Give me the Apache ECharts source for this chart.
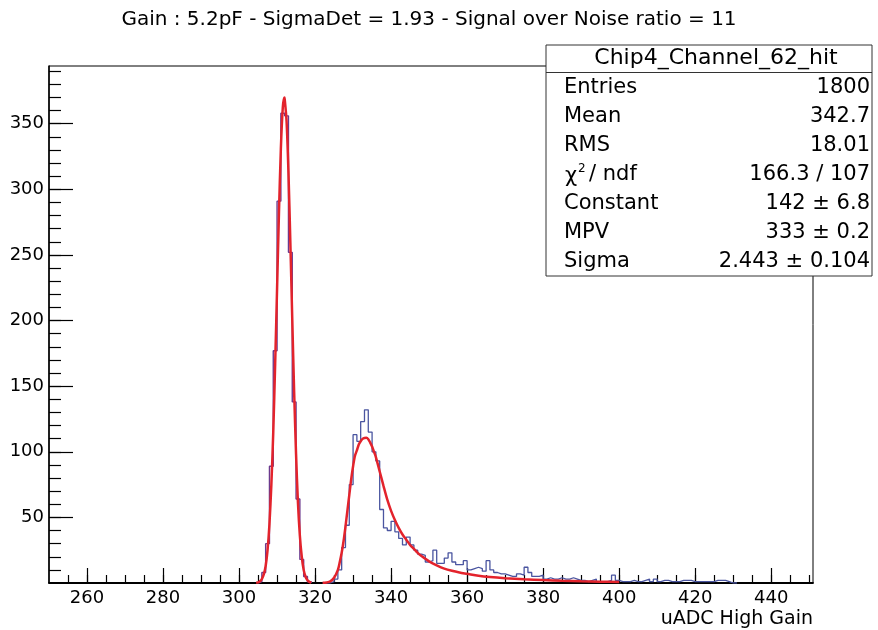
<!DOCTYPE html>
<html><head><meta charset="utf-8">
<script src="https://cdn.jsdelivr.net/npm/echarts@6/dist/echarts.min.js"></script>
<style>html,body{margin:0;padding:0;background:#fff}#c{width:878px;height:630px}</style>
</head><body><div id="c"></div>
<script>
const titleText = 'Gain : 5.2pF - SigmaDet = 1.93 - Signal over Noise ratio = 11';
const xAxisTitle = 'uADC High Gain';
const xMin = 250, xMax = 451, yMin = 0, yMax = 394;
const xMajorTicks = [260, 280, 300, 320, 340, 360, 380, 400, 420, 440];
const xMinorTicks = [255, 260, 265, 270, 275, 280, 285, 290, 295, 300, 305, 310, 315, 320, 325, 330, 335, 340, 345, 350, 355, 360, 365, 370, 375, 380, 385, 390, 395, 400, 405, 410, 415, 420, 425, 430, 435, 440, 445, 450];
const yMajorTicks = [50, 100, 150, 200, 250, 300, 350];
const yMinorTicks = [10, 20, 30, 40, 50, 60, 70, 80, 90, 100, 110, 120, 130, 140, 150, 160, 170, 180, 190, 200, 210, 220, 230, 240, 250, 260, 270, 280, 290, 300, 310, 320, 330, 340, 350, 360, 370, 380, 390];

// pedestal histogram (1-unit bins starting at pedBinStart)
const pedBinStart = 305;
const pedCounts = [1, 8, 30, 89, 177, 291, 358, 356, 252, 138, 64, 18, 5, 1];

// hit histogram (1-unit bins starting at hitBinStart)
const hitBinStart = 322;
const hitCounts = [0, 0, 1, 3, 10, 27, 44, 75, 113, 108, 123, 132, 115, 100, 93, 56, 42, 40, 47, 39,
  34, 29, 35, 29, 25, 22, 21, 16, 17, 25, 15, 15, 19, 23, 16, 14, 14, 17, 10, 11,
  12, 11, 9, 17, 10, 8, 7, 7, 6, 5, 5, 7, 6, 12, 8, 5, 5, 6, 3, 4,
  3, 3, 4, 3, 3, 4, 3, 2, 2, 1, 2, 3, 1, 1, 1, 2, 6, 2, 1, 1,
  1, 2, 1, 1, 2, 3, 1, 3, 1, 2, 2, 1, 1, 1, 2, 2, 2, 1, 1, 1,
  1, 1, 1, 2, 2, 2, 1, 0, 0];

// gaussian fit of the pedestal (read points)
const gausX = [304.5, 305, 305.5, 306, 306.5, 307, 307.5, 308, 308.5, 309, 309.5, 310, 310.5, 311, 311.5, 311.9, 312, 312.5, 313, 313.5, 314, 314.5, 315, 315.5, 316, 316.5, 317, 317.5, 318, 318.5, 319];
const gausY = [0.2, 0.5, 1.3, 3, 6.5, 13, 25, 45, 75, 115, 167, 224, 282, 331, 362, 370, 369, 352, 313, 259, 201, 145, 98, 61, 36, 20, 10, 4.8, 2.1, 0.9, 0.3];

// landau fit of the signal (read points)
const landauX = [322, 323, 324, 325, 326, 326.5, 327, 327.5, 328, 328.5, 329, 329.5, 330, 330.5, 331, 331.5, 332, 332.5, 333, 333.5, 334, 334.5, 335, 335.5, 336, 337, 338, 339, 340, 341, 342, 343, 344, 345, 346, 347, 348, 349, 350, 352, 354, 356, 358, 360, 363, 366, 370, 375, 380, 385, 390, 395, 400];
const landauY = [0.1, 0.4, 1.2, 4, 10, 16, 23, 32, 43, 55, 67, 79, 89, 97, 101, 105.5, 108, 109.8, 110.5, 110.6, 109.5, 107, 104, 100, 96, 85, 74, 63.5, 55, 48, 42, 37, 33, 29, 26, 23, 20.5, 18.5, 16.5, 13.5, 11, 9.3, 8, 7, 5.5, 4.5, 3.6, 2.8, 2.2, 1.7, 1.3, 1.0, 0.8];

const statsTitle = 'Chip4_Channel_62_hit';
const statsLabels = ['Entries', 'Mean', 'RMS', 'CHI', 'Constant', 'MPV', 'Sigma'];
const statsValues = ['1800', '342.7', '18.01', '166.3 / 107', '142 \u00b1 6.8', '333 \u00b1 0.2', '2.443 \u00b1 0.104'];

function histSteps(start, counts) {
  const d = [[start, 0]];
  counts.forEach((c, i) => d.push([start + i, c]));
  d.push([start + counts.length, counts[counts.length - 1]]);
  d.push([start + counts.length, 0]);
  return d;
}
function pairs(xs, ys) { return xs.map((x, i) => [x, ys[i]]); }

const FONT = 'DejaVu Sans';
const chart = echarts.init(document.getElementById('c'), null, {renderer: 'canvas'});

const statsGraphics = [];
const boxX = 546, boxY = 45, boxW = 326, boxH = 231;
const SF = '21px "' + FONT + '"';
statsGraphics.push({type: 'rect', z: 100, shape: {x: boxX, y: boxY, width: boxW, height: boxH}, style: {fill: '#fff', stroke: '#333', lineWidth: 1}});
statsGraphics.push({type: 'line', z: 101, shape: {x1: boxX, y1: 72.5, x2: boxX + boxW, y2: 72.5}, style: {stroke: '#333', lineWidth: 1}});
statsGraphics.push({type: 'text', z: 101, x: 716, y: 58.5, style: {text: statsTitle, fill: '#000', font: '22px "' + FONT + '"', textAlign: 'center', textVerticalAlign: 'middle'}});
statsLabels.forEach((lab, i) => {
  const y = 88 + 28.9 * i;
  if (lab === 'CHI') {
    statsGraphics.push({type: 'text', z: 101, x: 565, y: y + 2, style: {text: '\u03c7', fill: '#000', font: SF, textAlign: 'left', textVerticalAlign: 'middle'}});
    statsGraphics.push({type: 'text', z: 101, x: 578, y: y - 6, style: {text: '2', fill: '#000', font: '12px "' + FONT + '"', textAlign: 'left', textVerticalAlign: 'middle'}});
    statsGraphics.push({type: 'text', z: 101, x: 589, y: y, style: {text: '/ ndf', fill: '#000', font: SF, textAlign: 'left', textVerticalAlign: 'middle'}});
  } else {
    statsGraphics.push({type: 'text', z: 101, x: 564, y: y, style: {text: lab, fill: '#000', font: SF, textAlign: 'left', textVerticalAlign: 'middle'}});
  }
  statsGraphics.push({type: 'text', z: 101, x: 870, y: y, style: {text: statsValues[i], fill: '#000', font: SF, textAlign: 'right', textVerticalAlign: 'middle'}});
});

const option = {
  animation: false,
  backgroundColor: '#fff',
  grid: {left: 49, right: 65, top: 66, bottom: 47, show: true, borderColor: '#000', borderWidth: 1, backgroundColor: 'transparent'},
  xAxis: [{
    type: 'value', min: xMin, max: xMax, position: 'bottom',
    name: xAxisTitle, nameLocation: 'end', nameGap: 0,
    nameTextStyle: {color: '#000', fontFamily: FONT, fontSize: 19, align: 'right', verticalAlign: 'top', padding: [27, 0, 0, 0]},
    axisLine: {show: true, onZero: false, lineStyle: {color: '#000', width: 1.8}},
    axisTick: {show: true, inside: true, length: 15, customValues: xMajorTicks, lineStyle: {color: '#000', width: 1.2}},
    axisLabel: {show: true, customValues: xMajorTicks, margin: 6, color: '#000', fontFamily: FONT, fontSize: 18},
    splitLine: {show: false}
  }, {
    type: 'value', min: xMin, max: xMax, position: 'bottom',
    axisLine: {show: false, onZero: false},
    axisTick: {show: true, inside: true, length: 8, customValues: xMinorTicks, lineStyle: {color: '#000', width: 1.2}},
    axisLabel: {show: false},
    splitLine: {show: false}
  }],
  yAxis: [{
    type: 'value', min: yMin, max: yMax, position: 'left',
    axisLine: {show: true, lineStyle: {color: '#000', width: 1.5}},
    axisTick: {show: true, inside: true, length: 24, customValues: yMajorTicks, lineStyle: {color: '#000', width: 1.2}},
    axisLabel: {show: true, customValues: yMajorTicks, margin: 5, color: '#000', fontFamily: FONT, fontSize: 18},
    splitLine: {show: false}
  }, {
    type: 'value', min: yMin, max: yMax, position: 'left',
    axisLine: {show: false},
    axisTick: {show: true, inside: true, length: 12, customValues: yMinorTicks, lineStyle: {color: '#000', width: 1.2}},
    axisLabel: {show: false},
    splitLine: {show: false}
  }],
  series: [
    {type: 'line', name: 'pedestal', xAxisIndex: 0, yAxisIndex: 0, step: 'end', showSymbol: false, z: 2,
     data: histSteps(pedBinStart, pedCounts), lineStyle: {color: '#6b3a8e', width: 1.4}},
    {type: 'line', name: 'hit', xAxisIndex: 0, yAxisIndex: 0, step: 'end', showSymbol: false, z: 2,
     data: histSteps(hitBinStart, hitCounts), lineStyle: {color: '#4a55a0', width: 1.3}},
    {type: 'line', name: 'gaus', xAxisIndex: 0, yAxisIndex: 0, smooth: 0.3, showSymbol: false, z: 3,
     data: pairs(gausX, gausY), lineStyle: {color: '#e3232c', width: 2.5}},
    {type: 'line', name: 'landau', xAxisIndex: 0, yAxisIndex: 0, smooth: 0.3, showSymbol: false, z: 3,
     data: pairs(landauX, landauY), lineStyle: {color: '#e3232c', width: 2.5}}
  ],
  graphic: [
    {type: 'text', x: 429, y: 20, style: {text: titleText, fill: '#000', font: '20px "' + FONT + '"', textAlign: 'center', textVerticalAlign: 'middle'}}
  ].concat(statsGraphics)
};
chart.setOption(option);
</script>
</body></html>
